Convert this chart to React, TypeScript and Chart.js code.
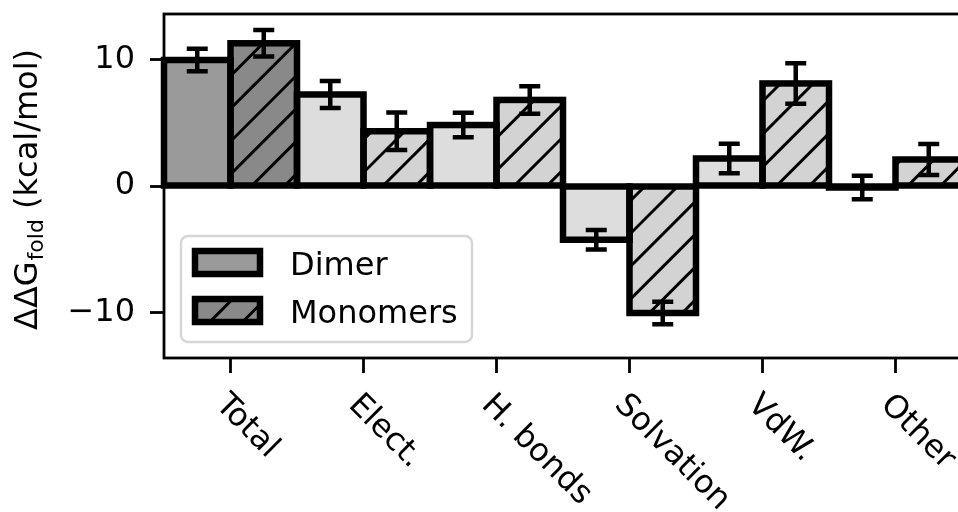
import React, { useEffect, useRef } from "react";
import { Chart, registerables } from "chart.js";

Chart.register(...registerables);

const categories = ["Total", "Elect.", "H. bonds", "Solvation", "VdW.", "Other"];
const seriesNames = ["Dimer", "Monomers"];
const dimerValues = [9.94, 7.22, 4.81, -4.24, 2.17, -0.12];
const monomerValues = [11.26, 4.32, 6.79, -10.02, 8.09, 2.09];
const dimerErrors = [0.88, 1.07, 0.97, 0.77, 1.16, 0.93];
const monomerErrors = [1.05, 1.47, 1.08, 0.89, 1.6, 1.22];
const dimerColors = ["#9a9a9a", "#dddddd", "#dddddd", "#dddddd", "#dddddd", "#dddddd"];
const monomerColors = ["#898989", "#d3d3d3", "#d3d3d3", "#d3d3d3", "#d3d3d3", "#d3d3d3"];
const yTicks = [-10, 0, 10];
const yMin = -13.57;
const yMax = 13.57;

const FONT = "'DejaVu Sans', sans-serif";
const HATCH_P = 32.8;
const HATCH_PHASE = 11.2;

function hatchRect(ctx: CanvasRenderingContext2D, l: number, t: number, r: number, b: number, phase: number) {
  ctx.save();
  ctx.beginPath();
  ctx.rect(l, t, r - l, b - t);
  ctx.clip();
  ctx.strokeStyle = "#000";
  ctx.lineWidth = 3;
  const cMin = l + t;
  const cMax = r + b;
  const k = Math.ceil((cMin - phase) / HATCH_P) - 1;
  for (let c = phase + k * HATCH_P; c <= cMax + HATCH_P; c += HATCH_P) {
    ctx.beginPath();
    ctx.moveTo(c - b, b);
    ctx.lineTo(c - t, t);
    ctx.stroke();
  }
  ctx.restore();
}

function barBox(bar: any) {
  const p = bar.getProps(["x", "y", "base", "width"], true);
  return {
    l: p.x - p.width / 2,
    r: p.x + p.width / 2,
    t: Math.min(p.y, p.base),
    b: Math.max(p.y, p.base),
    x: p.x,
    y: p.y,
  };
}

const customPlugin = {
  id: "customDraw",
  afterDatasetsDraw(chart: any) {
    const ctx: CanvasRenderingContext2D = chart.ctx;
    const yScale = chart.scales.y;
    chart.getDatasetMeta(1).data.forEach((bar: any) => {
      const bx = barBox(bar);
      hatchRect(ctx, bx.l, bx.t, bx.r, bx.b, HATCH_PHASE);
    });
    ctx.save();
    ctx.strokeStyle = "#000";
    ctx.lineWidth = 6.5;
    ctx.lineJoin = "miter";
    [0, 1].forEach((di) => {
      chart.getDatasetMeta(di).data.forEach((bar: any) => {
        const bx = barBox(bar);
        ctx.strokeRect(bx.l, bx.t, bx.r - bx.l, bx.b - bx.t);
      });
    });
    ctx.restore();
    const errs = [dimerErrors, monomerErrors];
    const vals = [dimerValues, monomerValues];
    ctx.save();
    ctx.strokeStyle = "#000";
    ctx.lineWidth = 4.5;
    [0, 1].forEach((di) => {
      chart.getDatasetMeta(di).data.forEach((bar: any, i: number) => {
        const bx = barBox(bar);
        const v = vals[di][i];
        const e = errs[di][i];
        const y1 = yScale.getPixelForValue(v + e);
        const y2 = yScale.getPixelForValue(v - e);
        ctx.beginPath();
        ctx.moveTo(bx.x, y1);
        ctx.lineTo(bx.x, y2);
        ctx.moveTo(bx.x - 10.5, y1);
        ctx.lineTo(bx.x + 10.5, y1);
        ctx.moveTo(bx.x - 10.5, y2);
        ctx.lineTo(bx.x + 10.5, y2);
        ctx.stroke();
      });
    });
    ctx.restore();
  },
  afterDraw(chart: any) {
    const ctx: CanvasRenderingContext2D = chart.ctx;
    const a = chart.chartArea;
    const xScale = chart.scales.x;
    ctx.save();
    ctx.strokeStyle = "#000";
    ctx.lineWidth = 2.8;
    ctx.strokeRect(a.left, a.top, a.right - a.left, a.bottom - a.top);
    ctx.restore();

    ctx.save();
    const lx = 181, ly = 236, lw = 291, lh = 106, rad = 7;
    ctx.beginPath();
    ctx.moveTo(lx + rad, ly);
    ctx.arcTo(lx + lw, ly, lx + lw, ly + lh, rad);
    ctx.arcTo(lx + lw, ly + lh, lx, ly + lh, rad);
    ctx.arcTo(lx, ly + lh, lx, ly, rad);
    ctx.arcTo(lx, ly, lx + lw, ly, rad);
    ctx.closePath();
    ctx.fillStyle = "rgba(255,255,255,0.8)";
    ctx.fill();
    ctx.strokeStyle = "#d6d6d6";
    ctx.lineWidth = 2.5;
    ctx.stroke();
    const handles = [
      { y: 251, color: dimerColors[0], hatch: false },
      { y: 299, color: monomerColors[0], hatch: true },
    ];
    handles.forEach((h, i) => {
      ctx.fillStyle = h.color;
      ctx.fillRect(195, h.y, 65, 23);
      if (h.hatch) hatchRect(ctx, 195, h.y, 260, h.y + 23, 6.9);
      ctx.strokeStyle = "#000";
      ctx.lineWidth = 6.5;
      ctx.strokeRect(195, h.y, 65, 23);
      ctx.fillStyle = "#000";
      ctx.font = `32px ${FONT}`;
      ctx.textAlign = "left";
      ctx.textBaseline = "alphabetic";
      ctx.fillText(seriesNames[i], 290, h.y + 24);
    });
    ctx.restore();

    ctx.save();
    ctx.fillStyle = "#000";
    ctx.font = `32px ${FONT}`;
    ctx.textAlign = "left";
    ctx.textBaseline = "alphabetic";
    categories.forEach((c, i) => {
      const tx = xScale.getPixelForValue(i);
      ctx.save();
      ctx.translate(tx - 16, 406);
      ctx.rotate(Math.PI / 4);
      ctx.fillText(c, 0, 0);
      ctx.restore();
    });
    ctx.restore();

    ctx.save();
    ctx.fillStyle = "#000";
    ctx.translate(37, 330);
    ctx.rotate(-Math.PI / 2);
    ctx.textAlign = "left";
    ctx.textBaseline = "alphabetic";
    ctx.font = `32px ${FONT}`;
    ctx.fillText("ΔΔG", 0, 0);
    const w1 = ctx.measureText("ΔΔG").width;
    ctx.font = `22px ${FONT}`;
    ctx.fillText("fold", w1 + 1, 6);
    const w2 = ctx.measureText("fold").width;
    ctx.font = `32px ${FONT}`;
    ctx.fillText(" (kcal/mol)", w1 + 1 + w2, 0);
    ctx.restore();
  },
};

export default function App() {
  const canvasRef = useRef<HTMLCanvasElement | null>(null);

  useEffect(() => {
    if (!canvasRef.current) return;
    const chart = new Chart(canvasRef.current, {
      type: "bar",
      data: {
        labels: categories,
        datasets: [
          {
            label: seriesNames[0],
            data: dimerValues,
            backgroundColor: dimerColors,
            borderWidth: 0,
            barPercentage: 1,
            categoryPercentage: 1,
          },
          {
            label: seriesNames[1],
            data: monomerValues,
            backgroundColor: monomerColors,
            borderWidth: 0,
            barPercentage: 1,
            categoryPercentage: 1,
          },
        ],
      },
      options: {
        responsive: false,
        animation: false,
        devicePixelRatio: 1,
        layout: { padding: { left: 0, right: 18, top: 14, bottom: 0 } },
        plugins: { legend: { display: false }, tooltip: { enabled: false } },
        scales: {
          x: {
            type: "category",
            offset: true,
            border: { display: false },
            grid: {
              display: true,
              drawOnChartArea: false,
              drawTicks: true,
              tickLength: 15,
              tickWidth: 2.8,
              tickColor: "#000",
              offset: false,
            },
            ticks: { display: false },
            afterFit: (s: any) => {
              s.height = 154;
              s.paddingLeft = 0;
              s.paddingRight = 0;
            },
          },
          y: {
            min: yMin,
            max: yMax,
            border: { display: false },
            grid: {
              display: true,
              drawOnChartArea: false,
              drawTicks: true,
              tickLength: 14,
              tickWidth: 2.8,
              tickColor: "#000",
            },
            afterBuildTicks: (s: any) => {
              s.ticks = yTicks.map((v) => ({ value: v }));
            },
            ticks: {
              color: "#000",
              padding: 15,
              font: { family: FONT, size: 32 },
              callback: (v: any) => (Number(v) < 0 ? "\u2212" + Math.abs(Number(v)) : String(v)),
            },
            afterFit: (s: any) => {
              s.width = 164;
              s.paddingTop = 0;
              s.paddingBottom = 0;
            },
          },
        },
      },
      plugins: [customPlugin],
    });
    return () => chart.destroy();
  }, []);

  return (
    <div
      style={{
        position: "fixed",
        left: 0,
        top: 0,
        width: "100vw",
        height: "100vh",
        overflow: "hidden",
        background: "#fff",
      }}
    >
      <canvas ref={canvasRef} width={980} height={512} style={{ display: "block" }} />
    </div>
  );
}
